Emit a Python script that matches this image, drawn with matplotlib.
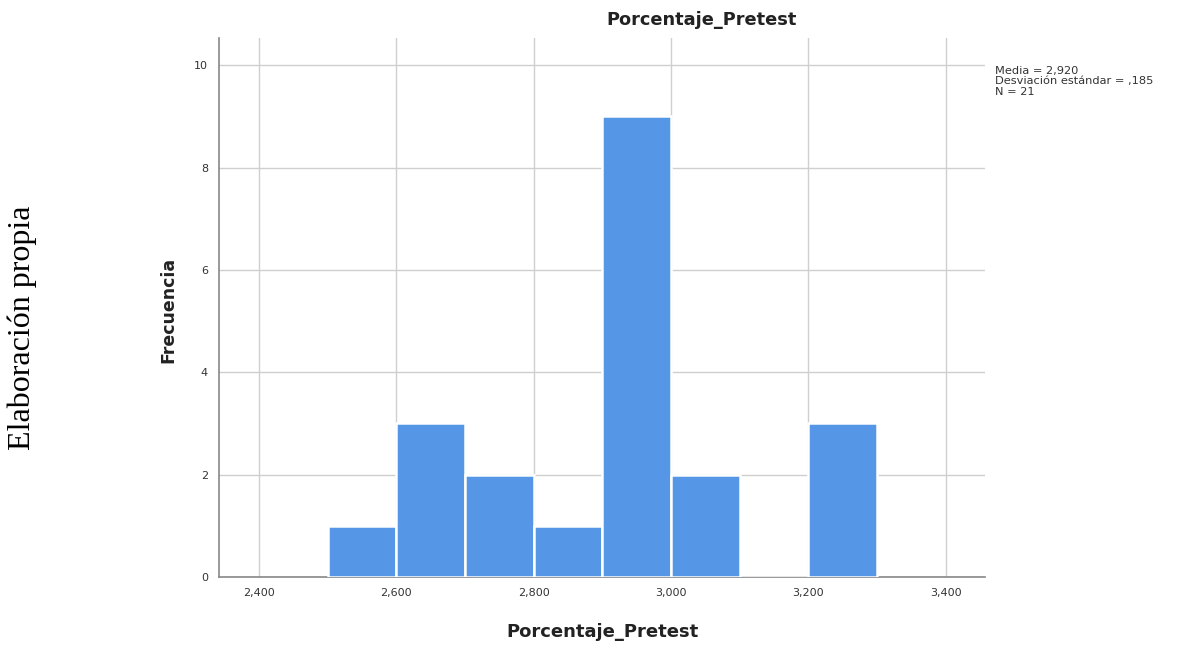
import matplotlib
matplotlib.use("Agg")
import matplotlib.pyplot as plt
import numpy as np

bin_edges = [2.5, 2.6, 2.7, 2.8, 2.9, 3.0, 3.1, 3.2, 3.3]
counts = [1, 3, 2, 1, 9, 2, 0, 3]
xticks = [2.4, 2.6, 2.8, 3.0, 3.2, 3.4]
xtick_labels = ["2,400", "2,600", "2,800", "3,000", "3,200", "3,400"]
yticks = [0, 2, 4, 6, 8, 10]
stats_text = "Media = 2,920\nDesviación estándar = ,185\nN = 21"
title = "Porcentaje_Pretest"
xlabel = "Porcentaje_Pretest"
ylabel = "Frecuencia"
side_note = "Elaboración propia"

plt.rcParams['font.family'] = ['DejaVu Sans']

fig = plt.figure(figsize=(11.81, 6.47), dpi=100)
ax = fig.add_axes([219/1181, 1-577/647, (985-219)/1181, (577-38)/647])

lefts = np.array(bin_edges[:-1])
widths = np.diff(bin_edges)
ax.bar(lefts, counts, width=widths, align='edge', color='#5596e6',
       edgecolor='white', linewidth=1.8, zorder=3)

ax.set_xlim(2.342, 3.457)
ax.set_ylim(0, 10.53)
ax.set_xticks(xticks)
ax.set_xticklabels(xtick_labels)
ax.set_yticks(yticks)
ax.tick_params(axis='both', length=0, labelsize=8, colors='#333333', pad=8)
ax.grid(True, color='#cfcfcf', linewidth=1.0, zorder=0)
for s in ['top', 'right']:
    ax.spines[s].set_visible(False)
for s in ['left', 'bottom']:
    ax.spines[s].set_color('#888888')
    ax.spines[s].set_linewidth(1.2)

fig.text(702/1181, 1-20/647, title, ha='center', va='center',
         fontsize=12.8, fontweight='bold', color='#222222')
fig.text(603/1181, 1-632/647, xlabel, ha='center', va='center',
         fontsize=13, fontweight='bold', color='#222222')
fig.text(168/1181, 1-310/647, ylabel, ha='center', va='center',
         rotation=90, fontsize=12.5, fontweight='bold', color='#222222')
fig.text(995/1181, 1-66/647, stats_text, ha='left', va='top',
         fontsize=8.2, color='#333333', linespacing=1.05)
fig.text(22/1181, 1-328/647, side_note, ha='center', va='center',
         rotation=90, fontsize=23, family=['Liberation Serif'], color='black')

fig.savefig("out.png", dpi=100)
